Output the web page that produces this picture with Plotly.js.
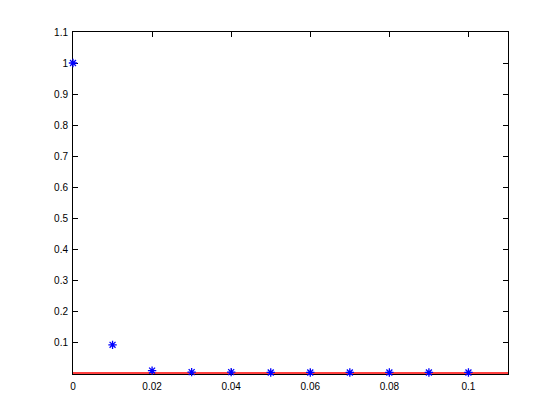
<!DOCTYPE html>
<html>
<head>
<meta charset="utf-8">
<script src="https://cdn.plot.ly/plotly-3.0.1.min.js"></script>
<style>
  html, body { margin: 0; padding: 0; background: #fff; }
  #plot { width: 560px; height: 420px; }
</style>
</head>
<body>
<div id="plot"></div>
<script>
// sample points (blue asterisks)
const xs = [0, 0.01, 0.02, 0.03, 0.04, 0.05, 0.06, 0.07, 0.08, 0.09, 0.1];
const ys = [1, 0.091, 0.008, 0.003, 0.003, 0.002, 0.002, 0.002, 0.002, 0.002, 0.002];

// red reference line
const lineX = [0, 0.11];
const lineY = [0, 0];

const xTicks = [0, 0.02, 0.04, 0.06, 0.08, 0.1];
const xTickText = ['0', '0.02', '0.04', '0.06', '0.08', '0.1'];
const yTicks = [0.1, 0.2, 0.3, 0.4, 0.5, 0.6, 0.7, 0.8, 0.9, 1, 1.1];
const yTickText = ['0.1', '0.2', '0.3', '0.4', '0.5', '0.6', '0.7', '0.8', '0.9', '1', '1.1'];

const traces = [
  {
    x: lineX, y: lineY, type: 'scatter', mode: 'lines',
    line: { color: '#ff0000', width: 1.6 },
    hoverinfo: 'skip'
  },
  {
    x: xs, y: ys, type: 'scatter', mode: 'markers',
    marker: { symbol: 'asterisk-open', size: 7, color: '#0000ff',
              line: { color: '#0000ff', width: 1.3 } },
    cliponaxis: false
  }
];

const axisCommon = {
  showgrid: false, zeroline: false,
  showline: true, linecolor: '#000', linewidth: 1, mirror: 'ticks',
  ticks: 'inside', ticklen: 5, tickcolor: '#000', tickwidth: 1,
  layer: 'below traces',
  tickfont: { family: 'Liberation Sans, Arial, sans-serif', size: 10, color: '#000' }
};

const layout = {
  width: 560, height: 420,
  margin: { l: 73, r: 52, t: 32, b: 46 },
  paper_bgcolor: '#fff', plot_bgcolor: '#fff',
  showlegend: false,
  xaxis: Object.assign({}, axisCommon, {
    range: [0, 0.11], tickmode: 'array', tickvals: xTicks, ticktext: xTickText,
    ticklabelstandoff: 3
  }),
  yaxis: Object.assign({}, axisCommon, {
    range: [-0.003, 1.1], tickmode: 'array', tickvals: yTicks, ticktext: yTickText,
    ticklabelstandoff: 2
  })
};

Plotly.newPlot('plot', traces, layout, { displayModeBar: false, staticPlot: true });
</script>
</body>
</html>
